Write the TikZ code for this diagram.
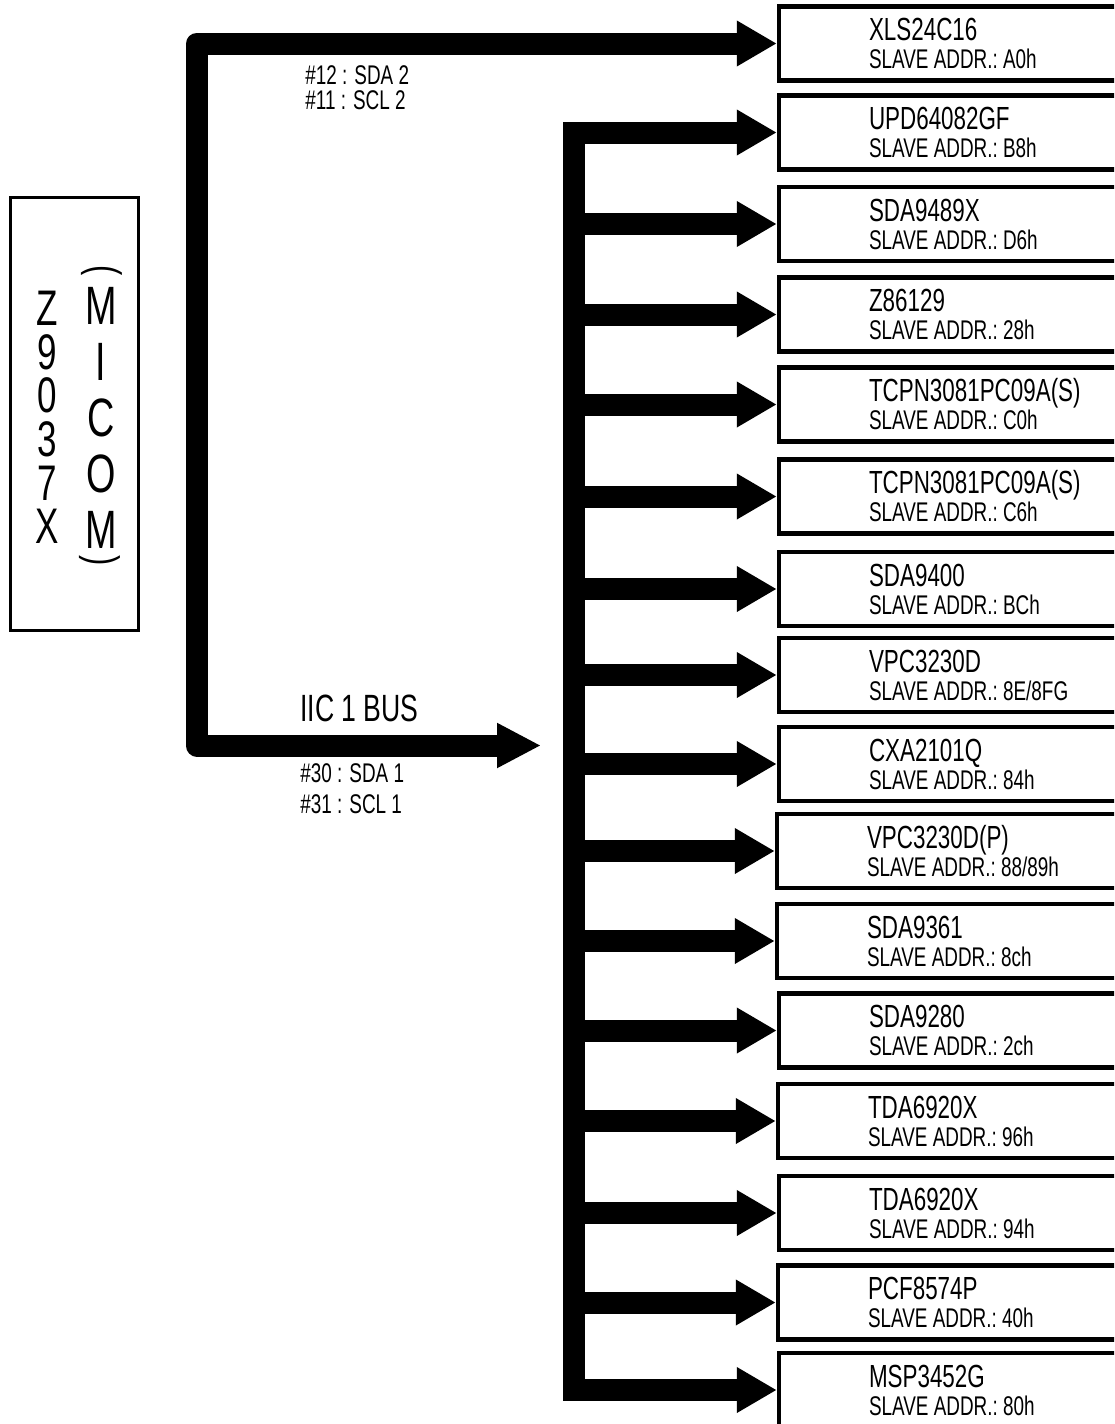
\documentclass[tikz,border=0pt]{standalone}
\usepackage{fontspec}
\setmainfont{Liberation Sans}[FakeStretch=0.7]
\usepackage{tikz}
\usetikzlibrary{arrows.meta}

\newcommand{\partno}[1]{{\fontsize{16}{14}\selectfont #1}}
\newcommand{\slaveaddr}[1]{{\spaceskip=0pt\xspaceskip=0pt\frenchspacing SLAVE ADDR.: #1}}

\tikzset{
    chip/.style={draw, line width=2.2pt, minimum width=260pt, minimum height=37pt,
        inner xsep=0pt, text width=170pt, align=left, font=\fontsize{13.5}{14}\selectfont},
    wire/.style={line width=11pt, line join=round, -{Triangle[length=20pt,width=21.5pt]}},
    pinlabel/.style={anchor=west, inner sep=0pt, font=\fontsize{13.5}{14}\selectfont},
}

\begin{document}
\begin{tikzpicture}[x=0.5pt, y=-0.5pt]
    \useasboundingbox (0,0) rectangle (1114,1424);
    \clip (0,0) rectangle (1114,1424);

    % Micom
    \node[draw, line width=1.5pt, minimum width=64pt, minimum height=216.5pt] (micom) at (74,413.5) {};
    \node[align=center, inner sep=0pt, font=\fontsize{25}{21.8}\selectfont] (chipid) at (47,417.5) {Z\\9\\0\\3\\7\\X};
    \node[align=center, inner sep=0pt, font=\fontsize{27}{27.9}\selectfont] (micomtxt) at (101,418) {M\\I\\C\\O\\M};
    \node[rotate=-90, inner sep=0pt, font=\fontsize{22}{22}\selectfont] (lparen) at (102,271) {(};
    \node[rotate=-90, inner sep=0pt, font=\fontsize{22}{22}\selectfont] (rparen) at (100,561) {)};

    % Slave devices
    \node[chip] (b1) at (1039,43.5) {\partno{XLS24C16}\\\slaveaddr{A0h}};
    \node[chip] (b2) at (1039,132.5) {\partno{UPD64082GF}\\\slaveaddr{B8h}};
    \node[chip] (b3) at (1039,224) {\partno{SDA9489X}\\\slaveaddr{D6h}};
    \node[chip] (b4) at (1039,314.5) {\partno{Z86129}\\\slaveaddr{28h}};
    \node[chip] (b5) at (1039,404.5) {\partno{TCPN3081PC09A(S)}\\\slaveaddr{C0h}};
    \node[chip] (b6) at (1039,496.5) {\partno{TCPN3081PC09A(S)}\\\slaveaddr{C6h}};
    \node[chip] (b7) at (1039,589) {\partno{SDA9400}\\\slaveaddr{BCh}};
    \node[chip] (b8) at (1039,675) {\partno{VPC3230D}\\\slaveaddr{8E/8FG}};
    \node[chip] (b9) at (1039,764) {\partno{CXA2101Q}\\\slaveaddr{84h}};
    \node[chip] (b10) at (1037,851) {\partno{VPC3230D(P)}\\\slaveaddr{88/89h}};
    \node[chip] (b11) at (1037,941) {\partno{SDA9361}\\\slaveaddr{8ch}};
    \node[chip] (b12) at (1039,1030.5) {\partno{SDA9280}\\\slaveaddr{2ch}};
    \node[chip] (b13) at (1038,1121) {\partno{TDA6920X}\\\slaveaddr{96h}};
    \node[chip] (b14) at (1039,1213) {\partno{TDA6920X}\\\slaveaddr{94h}};
    \node[chip] (b15) at (1038,1302.5) {\partno{PCF8574P}\\\slaveaddr{40h}};
    \node[chip] (b16) at (1039,1390) {\partno{MSP3452G}\\\slaveaddr{80h}};

    % IIC 2 line to the eeprom, IIC 1 line to the bus
    \coordinate (riser) at (197,0);
    \coordinate (busin) at (541,745.5);
    \draw[wire, {Triangle[length=22pt,width=21pt]}-{Triangle[length=20pt,width=21.5pt]}]
        (busin) -| (riser |- b1.west) -- (b1.west);
    \node[pinlabel] (sda2) at (305,75) {\#12 : SDA 2};
    \node[pinlabel] (scl2) at (305,100) {\#11 : SCL 2};
    \node[pinlabel, font=\fontsize{19}{19}\selectfont] (busname) at (300,708) {IIC 1 BUS};
    \node[pinlabel] (sda1) at (300,773) {\#30 : SDA 1};
    \node[pinlabel] (scl1) at (300,804) {\#31 : SCL 1};

    % IIC 1 bus
    \coordinate (bus) at (574,0);
    \draw[line width=11pt, line cap=rect] (bus |- b2.west) -- (bus |- b16.west);
    \draw[wire] (bus |- b2.west) -- (b2.west);
    \draw[wire] (bus |- b3.west) -- (b3.west);
    \draw[wire] (bus |- b4.west) -- (b4.west);
    \draw[wire] (bus |- b5.west) -- (b5.west);
    \draw[wire] (bus |- b6.west) -- (b6.west);
    \draw[wire] (bus |- b7.west) -- (b7.west);
    \draw[wire] (bus |- b8.west) -- (b8.west);
    \draw[wire] (bus |- b9.west) -- (b9.west);
    \draw[wire] (bus |- b10.west) -- (b10.west);
    \draw[wire] (bus |- b11.west) -- (b11.west);
    \draw[wire] (bus |- b12.west) -- (b12.west);
    \draw[wire] (bus |- b13.west) -- (b13.west);
    \draw[wire] (bus |- b14.west) -- (b14.west);
    \draw[wire] (bus |- b15.west) -- (b15.west);
    \draw[wire] (bus |- b16.west) -- (b16.west);
\end{tikzpicture}
\end{document}
